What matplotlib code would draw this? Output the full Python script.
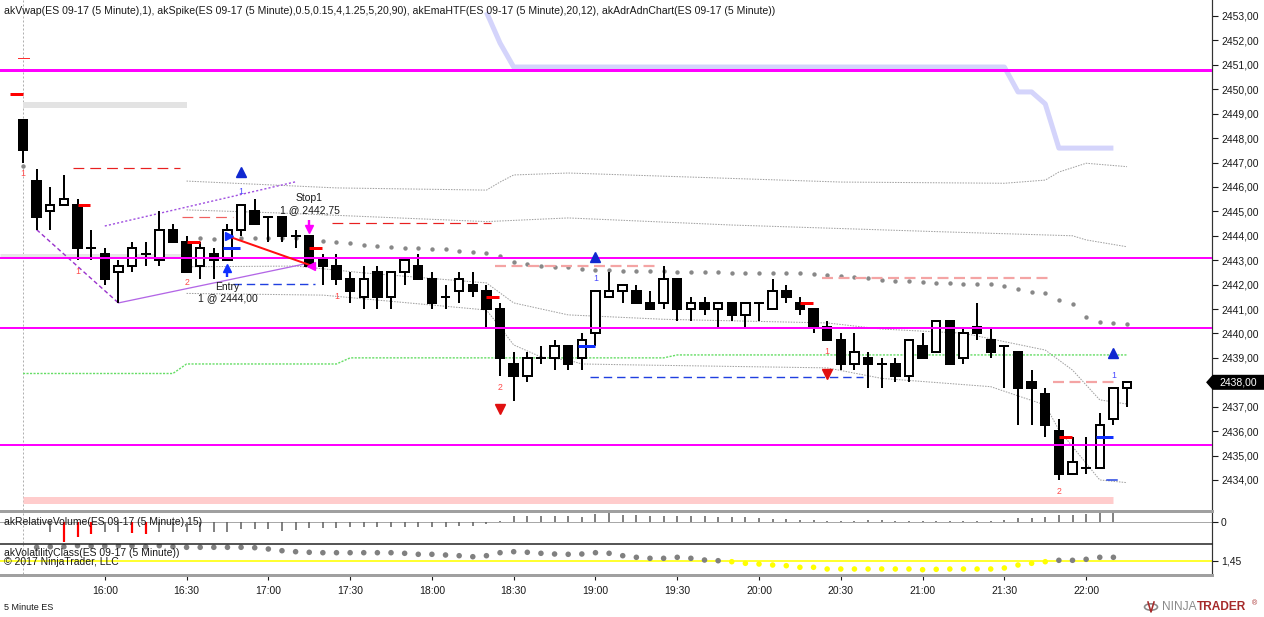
import matplotlib
matplotlib.use('Agg')
import matplotlib.pyplot as plt
from matplotlib.patches import Rectangle, Polygon, Circle
from matplotlib.lines import Line2D

plt.rcParams['font.family'] = ['Liberation Sans', 'DejaVu Sans']

# ---------------- data ----------------
title = ("akVwap(ES 09-17 (5 Minute),1), akSpike(ES 09-17 (5 Minute),0.5,0.15,4,1.25,5,20,90), "
         "akEmaHTF(ES 09-17 (5 Minute),20,12), akAdrAdnChart(ES 09-17 (5 Minute))")
time_labels = ['16:00', '16:30', '17:00', '17:30', '18:00', '18:30', '19:00',
               '19:30', '20:00', '20:30', '21:00', '21:30', '22:00']
time_label_bars = [6, 12, 18, 24, 30, 36, 42, 48, 54, 60, 66, 72, 78]
price_ticks = list(range(2434, 2454))

opens = [2448.75, 2446.25, 2445.0, 2445.25, 2445.25, 2443.5, 2443.25, 2442.5, 2442.75, 2443.25,
         2443.0, 2444.25, 2443.75, 2442.75, 2443.25, 2443.0, 2444.25, 2445.0, 2444.75, 2444.75,
         2444.0, 2444.0, 2443.0, 2442.75, 2442.25, 2441.5, 2442.5, 2441.5, 2442.5, 2442.75,
         2442.25, 2441.5, 2441.75, 2442.0, 2441.75, 2441.0, 2438.75, 2438.25, 2439.0, 2439.0,
         2439.5, 2439.0, 2440.0, 2441.5, 2441.75, 2441.75, 2441.25, 2441.25, 2442.25, 2441.0,
         2441.25, 2441.0, 2441.25, 2440.75, 2441.25, 2441.0, 2441.75, 2441.25, 2441.0, 2440.25,
         2439.75, 2438.75, 2439.0, 2438.75, 2438.75, 2438.25, 2439.5, 2439.25, 2440.5, 2439.0,
         2440.25, 2439.75, 2439.5, 2439.25, 2438.0, 2437.5, 2436.0, 2434.25, 2434.5, 2434.5,
         2436.5, 2437.75]
highs = [2448.75, 2446.75, 2446.0, 2446.5, 2445.5, 2444.25, 2443.5, 2443.0, 2443.75, 2443.75,
         2445.0, 2444.5, 2444.0, 2443.75, 2443.5, 2444.5, 2445.25, 2445.5, 2444.75, 2444.75,
         2444.25, 2444.0, 2443.25, 2443.25, 2442.5, 2442.75, 2442.75, 2442.5, 2443.0, 2443.25,
         2442.5, 2442.0, 2442.5, 2442.5, 2442.0, 2441.25, 2439.25, 2439.25, 2439.5, 2439.75,
         2439.5, 2440.0, 2441.75, 2442.5, 2442.0, 2442.0, 2441.75, 2442.75, 2442.25, 2441.5,
         2441.5, 2441.25, 2441.25, 2441.25, 2441.25, 2442.25, 2442.0, 2441.5, 2441.0, 2440.5,
         2440.0, 2440.0, 2439.25, 2439.0, 2439.0, 2439.75, 2440.0, 2440.5, 2440.5, 2440.25,
         2441.25, 2440.25, 2439.5, 2439.25, 2438.5, 2437.75, 2436.5, 2435.75, 2435.75, 2436.75,
         2437.75, 2438.0]
lows = [2447.0, 2444.25, 2444.25, 2445.25, 2443.0, 2443.0, 2442.0, 2441.25, 2442.5, 2442.75,
        2442.75, 2443.75, 2442.5, 2442.25, 2442.25, 2443.0, 2444.0, 2444.5, 2443.75, 2443.75,
        2443.5, 2442.75, 2442.0, 2442.0, 2441.25, 2441.0, 2441.0, 2441.0, 2442.0, 2442.25,
        2441.0, 2441.0, 2441.25, 2441.5, 2440.25, 2438.25, 2437.25, 2438.0, 2438.75, 2438.5,
        2438.5, 2438.5, 2439.5, 2441.5, 2441.25, 2441.25, 2441.0, 2441.0, 2440.5, 2440.5,
        2440.75, 2440.25, 2440.5, 2440.25, 2440.5, 2441.0, 2441.25, 2440.75, 2440.0, 2439.75,
        2438.5, 2438.5, 2437.75, 2437.75, 2438.0, 2438.0, 2439.0, 2439.25, 2438.75, 2438.75,
        2439.75, 2439.0, 2437.75, 2436.25, 2436.25, 2435.75, 2434.0, 2434.25, 2434.25, 2434.5,
        2436.25, 2437.0]
closes = [2447.5, 2444.75, 2445.25, 2445.5, 2443.5, 2443.5, 2442.25, 2442.75, 2443.5, 2443.25,
          2444.25, 2443.75, 2442.5, 2443.5, 2443.0, 2444.25, 2445.25, 2444.5, 2444.75, 2444.0,
          2444.0, 2442.75, 2442.75, 2442.25, 2441.75, 2442.25, 2441.5, 2442.5, 2443.0, 2442.25,
          2441.25, 2441.5, 2442.25, 2441.75, 2441.0, 2439.0, 2438.25, 2439.0, 2439.0, 2439.5,
          2438.75, 2439.75, 2441.75, 2441.75, 2442.0, 2441.25, 2441.0, 2442.25, 2441.0, 2441.25,
          2441.0, 2441.25, 2440.75, 2441.25, 2441.25, 2441.75, 2441.5, 2441.0, 2440.25, 2439.75,
          2438.75, 2439.25, 2438.75, 2438.75, 2438.25, 2439.75, 2439.0, 2440.5, 2438.75, 2440.0,
          2440.0, 2439.25, 2439.5, 2437.75, 2437.75, 2436.25, 2434.25, 2434.75, 2434.5, 2436.25,
          2437.75, 2438.0]

# VWAP dots
vwap_bars = [0] + list(range(13, 82))
vwap_vals = [2446.86,
             2443.91, 2443.88, 2443.90, 2443.91, 2443.91, 2443.91, 2443.91, 2443.91, 2443.91,
             2443.80, 2443.76, 2443.69, 2443.62, 2443.58, 2443.53, 2443.49, 2443.49, 2443.46,
             2443.45, 2443.39, 2443.35, 2443.31, 2443.17, 2442.91, 2442.83, 2442.76, 2442.73,
             2442.71, 2442.64, 2442.60, 2442.60, 2442.57, 2442.56, 2442.56, 2442.56, 2442.53,
             2442.53, 2442.53, 2442.50, 2442.49, 2442.49, 2442.49, 2442.46, 2442.46, 2442.46,
             2442.42, 2442.39, 2442.37, 2442.32, 2442.26, 2442.19, 2442.16, 2442.15, 2442.09,
             2442.08, 2442.05, 2442.03, 2442.01, 2442.01, 2441.94, 2441.81, 2441.71, 2441.64,
             2441.37, 2441.21, 2440.69, 2440.46, 2440.42, 2440.38]

# ADR envelope lines (vertices: bar, price)
g1_bars = [12, 23, 34, 35, 36, 40, 60, 72, 75, 76, 78, 81]
g1_vals = [2446.24, 2445.96, 2445.87, 2446.20, 2446.49, 2446.57, 2446.20, 2446.15, 2446.28,
           2446.61, 2446.97, 2446.83]
g2_bars = [12, 19, 34, 40, 52, 67, 77, 78, 81]
g2_vals = [2445.06, 2444.93, 2444.58, 2444.73, 2444.44, 2444.17, 2444.00, 2443.83, 2443.55]
g3_bars = [12, 20, 25, 34, 36, 40, 47, 59, 63, 69, 75, 77, 79, 81]
g3_vals = [2442.73, 2442.76, 2442.48, 2442.07, 2441.25, 2440.76, 2440.58, 2440.43, 2440.18,
           2440.01, 2439.32, 2438.50, 2437.28, 2437.11]
g4_bars = [12, 22, 34, 35, 36, 38, 40, 41, 45, 59, 63, 71, 75, 76, 79, 81]
g4_vals = [2441.64, 2441.57, 2440.96, 2440.26, 2439.53, 2439.04, 2438.91, 2438.75, 2438.71,
           2438.59, 2438.16, 2437.82, 2437.07, 2436.05, 2434.00, 2433.89]

green_bars = [0, 11, 12, 23, 24, 47, 48, 81]
green_vals = [2438.36, 2438.36, 2438.75, 2438.75, 2439.0, 2439.0, 2439.12, 2439.12]

ema_bars = [34, 35, 36, 72, 73, 74, 75, 76, 80]
ema_vals = [2453.16, 2451.89, 2450.91, 2450.91, 2449.89, 2449.89, 2449.40, 2447.59, 2447.59]

magenta_levels = [2450.77, 2443.08, 2440.23, 2435.44]
magenta_widths = [3.0, 2.0, 2.0, 2.0]

# dashed level segments: (start bar, end bar, price)
red_dash_segments = [(3.67, 11.5, 2446.78), (22.7, 34.3, 2444.54)]
lightred_dash_segments = [(11.67, 15.4, 2444.78)]
salmon_dash_segments = [(34.6, 46.4, 2442.78), (58.6, 75.3, 2442.29), (75.6, 80.3, 2438.02)]
blue_dash_segments = [(15.4, 21.4, 2442.01), (41.6, 61.6, 2438.23)]

red_ticks = [(4, 2445.25), (12, 2443.75), (21, 2443.5), (34, 2441.5), (57, 2441.25), (76, 2435.75)]
blue_ticks = [(15, 2443.5), (41, 2439.5), (79, 2435.75)]

spike_labels = [(0, 2446.53, '1', 'r'), (4, 2442.52, '1', 'r'), (12, 2442.07, '2', 'r'),
                (16, 2445.83, '1', 'b'), (23, 2441.53, '1', 'r'), (35, 2437.77, '2', 'r'),
                (42, 2442.27, '1', 'b'), (59, 2439.28, '1', 'r'), (80, 2438.26, '1', 'b'),
                (76, 2433.51, '2', 'r')]
up_triangles = [(16, 2446.61), (42, 2443.13), (80, 2439.18)]
down_triangles = [(35, 2436.90), (59, 2438.34)]

# relative volume (bars 2..80)
vol_bars = list(range(2, 81))
vol_vals = [-10, -20, -15.7, -12.7, -10, -10, -11.7, -12.3, -10.7, -10, -10.7, -10, -10.7, -10,
            -7.7, -7.7, -7.7, -9, -8.3, -6.7, -6, -6, -5.7, -5.7, -5, -5, -5, -5, -5, -5,
            -4.3, -4.3, -2.7, 0.3, 5.7, 5.7, 5.7, 5.7, 5.7, 5, 7.7, 8.3,
            6.7, 6.7, 6, 6, 6, 5.3, 5.3, 5, 4.3, 4.3, 3.7, 2.7, 2.7, 2, 2, 1, 1, 1, 1.7, 1.7,
            1, 1, 1, 0.3, 0.3, 0.3, 0.3, 0.3, 1.7, 3.7, 3.7, 5, 7, 7, 7.7, 9.3, 9.3]
vol_red_bars = [3, 4, 5, 8, 9]

# volatility class (bars 1..80)
volat_bars = list(range(1, 81))
volat_vals = [1.584, 1.59, 1.59, 1.60, 1.597, 1.597, 1.60, 1.60, 1.59, 1.60, 1.59, 1.584,
              1.584, 1.584, 1.584, 1.584, 1.58, 1.567, 1.55, 1.54, 1.534, 1.53, 1.53, 1.53,
              1.53, 1.53, 1.53, 1.524, 1.514, 1.514, 1.507, 1.50, 1.49, 1.50, 1.53, 1.54,
              1.534, 1.524, 1.517, 1.514, 1.517, 1.53, 1.524,
              1.50, 1.484, 1.474, 1.474, 1.484, 1.474, 1.457, 1.45, 1.44, 1.424, 1.417, 1.407,
              1.40, 1.384, 1.384, 1.367, 1.367, 1.367, 1.367, 1.367, 1.367, 1.367, 1.36, 1.364,
              1.367, 1.367, 1.367, 1.367, 1.377, 1.407, 1.424, 1.44, 1.454, 1.454, 1.464,
              1.484, 1.484]
volat_level = 1.45
last_price = 2438.00

# ---------------- layout ----------------
W, H = 1264, 617
fig = plt.figure(figsize=(W / 100, H / 100), dpi=100)
PX = 0.72  # points per pixel


def rect(x0, y0, x1, y1):
    return [x0 / W, 1 - y1 / H, (x1 - x0) / W, (y1 - y0) / H]


BAR_PX = 13.63
X0_PX = 23
AX_RIGHT = 1212
XLIM = (-X0_PX / BAR_PX, (AX_RIGHT - X0_PX) / BAR_PX)
TXT = '#1a1a1a'

# ---------------- price panel ----------------
ax = fig.add_axes(rect(0, 0, AX_RIGHT, 510))
ax.set_xlim(*XLIM)
ax.set_ylim(2432.77, 2453.655)
for s in ['top', 'left', 'bottom']:
    ax.spines[s].set_visible(False)
ax.spines['right'].set_color('#333333')
ax.spines['right'].set_linewidth(1.2 * PX)
ax.yaxis.tick_right()
ax.set_yticks(price_ticks)
ax.set_yticklabels([f'{v:.2f}'.replace('.', ',') for v in price_ticks])
ax.tick_params(axis='y', length=4, width=0.8, pad=2.5, labelsize=7.5, colors=TXT)
ax.set_xticks([])

# session break
ax.axvline(0, color='#b0b0b0', lw=1 * PX, ls=(0, (2, 2)), zorder=1)

# grey bands
ax.plot([0, 12], [2449.37, 2449.37], color='#e3e3e3', lw=6 * PX, solid_capstyle='butt', zorder=1)
ax.plot([XLIM[0], 12], [2443.19, 2443.19], color='#e6e6e6', lw=5 * PX, solid_capstyle='butt', zorder=1)
# pink band at bottom
ax.plot([0, 80], [2433.16, 2433.16], color='#ffcccc', lw=7 * PX, solid_capstyle='butt', zorder=1)

# EMA HTF band
ax.plot(ema_bars, ema_vals, color='#d4d4fb', lw=5 * PX, solid_capstyle='butt', zorder=2)

# ADR envelope lines
for bx, by in [(g1_bars, g1_vals), (g2_bars, g2_vals), (g3_bars, g3_vals), (g4_bars, g4_vals)]:
    ax.plot(bx, by, color='#a0a0a0', lw=1.0 * PX, ls=(0, (1.5, 1.2)), zorder=2)

# green line
ax.plot(green_bars, green_vals, color='#66dd66', lw=1.4 * PX, ls=(0, (1.5, 1)), zorder=2)

# VWAP dots
ax.scatter(vwap_bars, vwap_vals, s=10, color='#888888', zorder=2, linewidths=0)

# dashed levels
for a, b, p in red_dash_segments:
    ax.plot([a, b], [p, p], color='#e82020', lw=1.2 * PX, ls=(0, (9, 5)), zorder=3)
for a, b, p in lightred_dash_segments:
    ax.plot([a, b], [p, p], color='#f06060', lw=1.2 * PX, ls=(0, (9, 5)), zorder=3)
for a, b, p in salmon_dash_segments:
    ax.plot([a, b], [p, p], color='#f4a4a4', lw=2.2 * PX, ls=(0, (5, 2.5)), zorder=3)
for a, b, p in blue_dash_segments:
    ax.plot([a, b], [p, p], color='#2040e0', lw=1.4 * PX, ls=(0, (6, 3.5)), zorder=3)

# trend channel lines
ax.plot([1, 7], [2444.25, 2441.25], color='#9933cc', lw=1.4 * PX, ls=(0, (3, 2)), zorder=3)
ax.plot([7, 21.3], [2441.25, 2442.92], color='#b366e6', lw=1.3 * PX, zorder=3)
ax.plot([6, 20], [2444.40, 2446.21], color='#a050e0', lw=1.4 * PX, ls=(0, (1.5, 1.5)), zorder=3)

# candles
for i, (o, h, l, c) in enumerate(zip(opens, highs, lows, closes)):
    ax.plot([i, i], [l, h], color='black', lw=2 * PX, zorder=4, solid_capstyle='butt')
    if o == c:
        ax.plot([i - 0.36, i + 0.36], [o, o], color='black', lw=2 * PX, zorder=5,
                solid_capstyle='butt')
    else:
        ax.add_patch(Rectangle((i - 0.31, min(o, c)), 0.62, abs(c - o),
                               facecolor='white' if c > o else 'black',
                               edgecolor='black', lw=2 * PX, zorder=5))

# magenta levels
for p, w in zip(magenta_levels, magenta_widths):
    ax.axhline(p, color='#ff00ff', lw=w * PX, zorder=6)

# short level ticks
for b, p in red_ticks:
    ax.plot([b, b + 0.95], [p, p], color='#ff0000', lw=3 * PX, solid_capstyle='butt', zorder=7)
for b, p in blue_ticks:
    ax.plot([b - 0.3, b + 0.95], [p, p], color='#1030ff', lw=3 * PX, solid_capstyle='butt', zorder=7)
ax.plot([79.5, 80.25], [2434.0, 2434.0], color='#2040e0', lw=1.5 * PX, zorder=7)
# top-left red marks
ax.plot([-0.95, 0], [2449.79, 2449.79], color='#ff0000', lw=3 * PX, solid_capstyle='butt', zorder=7)
ax.plot([-0.35, 0.45], [2451.27, 2451.27], color='#ff3030', lw=1 * PX, zorder=7)

# spike labels and triangles
for b, p, s, col in spike_labels:
    ax.text(b, p, s, color='#ff4a4a' if col == 'r' else '#4a4aff', fontsize=6.3,
            ha='center', va='center', zorder=8)
for b, p in up_triangles:
    ax.plot(b, p, marker='^', ms=6.5, color='#1028d0', mec='#1028d0', zorder=8)
for b, p in down_triangles:
    ax.plot(b, p, marker='v', ms=6.5, color='#e01010', mec='#e01010', zorder=8)

# trade: entry / stop
ax.plot([15, 21.15], [2443.99, 2442.78], color='#ff1010', lw=2 * PX, zorder=8)
ax.plot(15.1, 2443.99, marker='>', ms=6, color='#1030ff', zorder=9)
ax.plot(21.15, 2442.78, marker='<', ms=6, color='#ff00ff', zorder=9)
# entry arrow (up, blue)
ax.plot([15, 15], [2442.31, 2442.62], color='#1030ff', lw=2.4 * PX, zorder=8, solid_capstyle='butt')
ax.plot(15, 2442.68, marker='^', ms=6, color='#1030ff', zorder=8)
# stop arrow (down, magenta)
ax.plot([21, 21], [2444.66, 2444.33], color='#ff00ff', lw=2.4 * PX, zorder=8, solid_capstyle='butt')
ax.plot(21, 2444.27, marker='v', ms=6, color='#ff00ff', zorder=8)
ax.text(21, 2445.55, 'Stop1', fontsize=7.5, ha='center', va='center', color=TXT, zorder=9)
ax.text(21.05, 2445.06, '1 @ 2442,75', fontsize=7.5, ha='center', va='center', color=TXT, zorder=9)
ax.text(15, 2441.90, 'Entry', fontsize=7.5, ha='center', va='center', color=TXT, zorder=9)
ax.text(15.05, 2441.45, '1 @ 2444,00', fontsize=7.5, ha='center', va='center', color=TXT, zorder=9)

# ---------------- volume panel ----------------
axv = fig.add_axes(rect(0, 512, AX_RIGHT, 543))
axv.set_xlim(*XLIM)
axv.set_ylim(-21.3, 9.7)
for s in ['top', 'left', 'bottom']:
    axv.spines[s].set_visible(False)
axv.spines['right'].set_color('#333333')
axv.spines['right'].set_linewidth(1.2 * PX)
axv.yaxis.tick_right()
axv.set_yticks([0])
axv.set_yticklabels(['0'])
axv.tick_params(axis='y', length=4, width=0.8, pad=2.5, labelsize=7.5, colors=TXT)
axv.set_xticks([])
axv.axhline(0, color='#a8a8a8', lw=1 * PX, zorder=1)
axv.axvline(0, color='#b0b0b0', lw=1 * PX, ls=(0, (2, 2)), zorder=1)
for b, v in zip(vol_bars, vol_vals):
    red = b in vol_red_bars
    axv.plot([b, b], [0, v], color='#ff0000' if red else '#5a5a5a',
             lw=(2.2 if red else 1.5) * PX, solid_capstyle='butt', zorder=3)
axv.text(0.003, 0.68, 'akRelativeVolume(ES 09-17 (5 Minute),15)', transform=axv.transAxes,
         fontsize=7.5, ha='left', va='center', color=TXT, zorder=5)

# ---------------- volatility panel ----------------
axc = fig.add_axes(rect(0, 544, AX_RIGHT, 574))
axc.set_xlim(*XLIM)
axc.set_ylim(1.317, 1.617)
for s in ['top', 'left', 'bottom']:
    axc.spines[s].set_visible(False)
axc.spines['right'].set_color('#333333')
axc.spines['right'].set_linewidth(1.2 * PX)
axc.yaxis.tick_right()
axc.set_yticks([volat_level])
axc.set_yticklabels([f'{volat_level:.2f}'.replace('.', ',')])
axc.tick_params(axis='y', length=4, width=0.8, pad=2.5, labelsize=7.5, colors=TXT)
axc.set_xticks(time_label_bars)
axc.set_xticklabels(time_labels)
axc.tick_params(axis='x', length=4, width=0.8, pad=5, labelsize=7.5, colors=TXT)
axc.axhline(volat_level, color='#ffff00', lw=1.6 * PX, zorder=1)
axc.axvline(0, color='#b0b0b0', lw=1 * PX, ls=(0, (2, 2)), zorder=1)
cols = ['#ffff00' if v < volat_level - 0.005 else '#808080' for v in volat_vals]
axc.scatter(volat_bars, volat_vals, s=16, c=cols, linewidths=0, zorder=3)
axc.text(0.003, 0.70, 'akVolatilityClass(ES 09-17 (5 Minute))', transform=axc.transAxes,
         fontsize=7.5, ha='left', va='center', color=TXT, zorder=5)
axc.text(0.003, 0.40, '\u00a9 2017 NinjaTrader, LLC', transform=axc.transAxes,
         fontsize=7.5, ha='left', va='center', color=TXT, zorder=5)


# ---------------- figure-level decorations ----------------
def fhline(y, x0, x1, color, lw_px):
    fig.add_artist(Line2D([x0 / W, x1 / W], [1 - y / H, 1 - y / H], color=color,
                          lw=lw_px * PX, transform=fig.transFigure))


fhline(511, 0, AX_RIGHT, '#a0a0a0', 3)
fhline(543.5, 0, AX_RIGHT, '#202020', 1.5)
fhline(574.5, 0, AX_RIGHT, '#a0a0a0', 3)


def ftext(x, y, s, **kw):
    fig.text(x / W, 1 - y / H, s, **kw)


ftext(4, 11, title, fontsize=7.6, ha='left', va='center', color=TXT)
ftext(4, 607, '5 Minute ES', fontsize=6.5, ha='left', va='center', color=TXT)

# last price marker
y_lp = 16 + (2453 - last_price) * 24.42
pts = [(1207, y_lp), (1213, y_lp - 6.8), (1264, y_lp - 6.8), (1264, y_lp + 6.8), (1213, y_lp + 6.8)]
fig.add_artist(Polygon([(x / W, 1 - y / H) for x, y in pts], closed=True, facecolor='black',
                       edgecolor='black', transform=fig.transFigure, zorder=10))
ftext(1219, y_lp, f'{last_price:.2f}'.replace('.', ','), fontsize=7.5, ha='left', va='center',
      color='white', zorder=11)

# NinjaTrader logo
fig.add_artist(Circle((1151 / W, 1 - 607 / H), 6.5 / W, transform=fig.transFigure,
                      facecolor='none', edgecolor='#8a8a8a', lw=1.6 * PX, zorder=10))
fig.add_artist(Line2D([1148 / W, 1151 / W, 1154 / W], [1 - 602 / H, 1 - 612 / H, 1 - 602 / H],
                      color='#a52a2a', lw=1.6 * PX, transform=fig.transFigure, zorder=11))
ftext(1162, 607.5, 'NINJA', fontsize=8.6, ha='left', va='center', color='#8a8a8a')
ftext(1197, 607.5, 'TRADER', fontsize=8.6, ha='left', va='center', color='#a52a2a',
      fontweight='bold')
ftext(1252, 603.5, '\u00ae', fontsize=5, ha='left', va='center', color='#a52a2a')

fig.savefig('out.png', dpi=100)
